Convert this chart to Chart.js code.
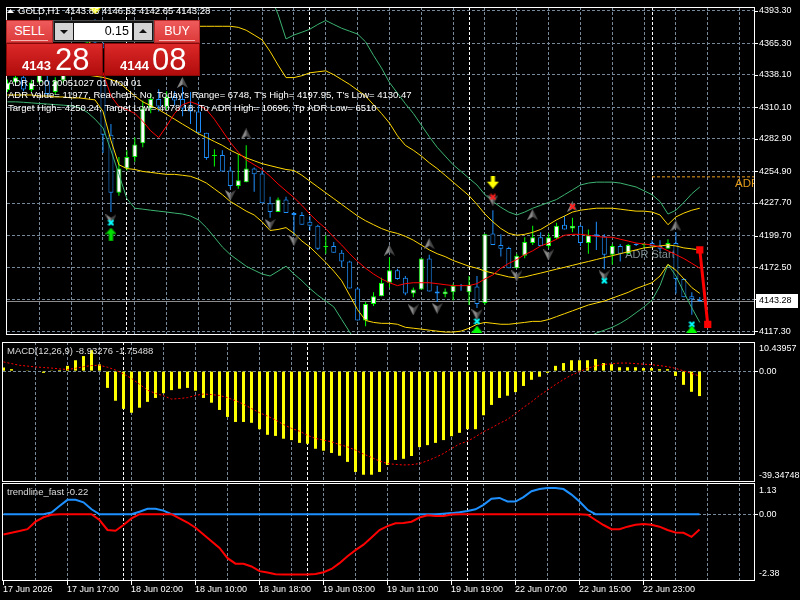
<!DOCTYPE html>
<html><head><meta charset="utf-8">
<script src="https://cdn.jsdelivr.net/npm/chart.js@4.4.1/dist/chart.umd.min.js"></script>
<style>
html,body{margin:0;padding:0;background:#000;}
body{width:800px;height:600px;position:relative;overflow:hidden;font-family:"Liberation Sans",Arial,sans-serif;}
canvas{position:absolute;left:0;}
#tp div{position:absolute;box-sizing:border-box;}
.top{top:20px;height:23px;background:linear-gradient(#ef5b5b,#dc3a3a);border:1px solid #b32828;color:#fff;font-size:12.5px;text-align:center;line-height:20px;}
.ul{left:4px;right:4px;bottom:1px;height:1px;background:#f5b0b0;}
#lot{left:53px;top:20px;width:101px;height:22px;background:#161616;border:1px solid #4a4a4a;}
.ab{top:2px;width:18px;height:17px;background:#d4d4d4;}
.tri{left:5px;width:0;height:0;border-left:4px solid transparent;border-right:4px solid transparent;}
.fld{left:20px;top:2px;width:58px;height:17px;background:#fff;color:#000;font-size:12.5px;text-align:right;padding-right:3px;line-height:17px;}
.big{top:43px;height:33px;background:linear-gradient(#dc2828,#b10c0c);border:1px solid #8a0808;color:#fff;}
.sm{font-weight:bold;font-size:13px;line-height:13px;top:15px;}
.lg{font-size:31px;line-height:31px;top:0px;}
</style></head>
<body>
<canvas id="cMain" width="800" height="341" style="top:0"></canvas>
<canvas id="cMacd" width="800" height="141" style="top:341px"></canvas>
<canvas id="cTrend" width="800" height="118" style="top:482px"></canvas>
<div id="tp">
  <div class="top" style="left:6px;width:47px;">SELL<div class="ul"></div></div>
  <div id="lot">
    <div class="ab" style="left:1px;"><div class="tri" style="top:7px;border-top:4px solid #111;"></div></div>
    <div class="fld">0.15</div>
    <div class="ab" style="left:80px;"><div class="tri" style="top:6px;border-bottom:4px solid #111;"></div></div>
  </div>
  <div class="top" style="left:154px;width:46px;">BUY<div class="ul"></div></div>
  <div class="big" style="left:6px;width:97px;"><div class="sm" style="left:15px;">4143</div><div class="lg" style="left:48px;">28</div></div>
  <div class="big" style="left:104px;width:96px;"><div class="sm" style="left:15px;">4144</div><div class="lg" style="left:47px;">08</div></div>
</div>
<script>
// ================= DATA =================
const timeLabels = ["17 Jun 2026","17 Jun 17:00","18 Jun 02:00","18 Jun 10:00","18 Jun 18:00","19 Jun 03:00","19 Jun 11:00","19 Jun 19:00","22 Jun 07:00","22 Jun 15:00","22 Jun 23:00"];
const timeLabelBars = [0,8,16,24,32,40,48,56,64,72,80];
const gridBars = [4,8,12,16,20,24,28,32,36,40,44,48,52,56,60,64,68,72,76,80,84,88,92];
const daySeparators = [15,38,58,81];
const priceTicks = [4117.30,4144.90,4172.50,4199.70,4227.70,4254.90,4282.90,4310.10,4338.10,4365.30,4393.30];
const priceTickLabels = ["4117.30","","4172.50","4199.70","4227.70","4254.90","4282.90","4310.10","4338.10","4365.30","4393.30"];
const lastPrice = 4143.28;
const headerText = "GOLD,H1  4143.86 4146.62 4142.65 4143.28";
const adrLines = ["ADR 1.00 20051027 01 Mod 01",
  "ADR Value= 11977, Reached= No, Today's Range= 6748, T's High= 4197.95, T's Low= 4130.47",
  "Target High= 4250.24, Target Low= 4078.18, To ADR High= 10696, Tp ADR Low= 6510"];
const adrHigh = 4250.24, adrStartBar = 81;
const adrStartTextBar = 78, adrStartTextPrice = 4183.2;

const open = [4324.9,4331.6,4336.0,4325.0,4331.6,4333.3,4323.3,4333.3,4340.0,4348.0,
 4357.0,4366.0,4362.0,4286.6,4236.5,4257.4,4267.4,4279.1,4309.1,4317.4,
 4310.8,4319.1,4317.4,4309.1,4306.6,4288.2,4268.2,4269.1,4255.7,4242.4,
 4245.7,4257.4,4253.2,4227.4,4219.9,4230.7,4219.0,4217.4,4211.5,4208.2,
 4189.8,4190.7,4184.8,4177.3,4154.0,4126.5,4140.7,4147.3,4159.0,4169.8,
 4163.2,4149.8,4153.2,4179.8,4151.5,4149.0,4150.7,4156.5,4150.7,4155.7,
 4141.5,4201.5,4191.5,4189.0,4171.5,4182.3,4193.2,4198.2,4190.7,4197.4,
 4209.0,4205.7,4208.2,4193.2,4200.7,4199.0,4183.2,4190.7,4184.0,4192.4,
 4191.5,4193.2,4190.7,4188.2,4193.2,4162.3,4147.3,4143.86];
const high = [4334.1,4338.0,4339.0,4334.0,4340.0,4338.0,4336.0,4342.0,4351.0,4360.0,
 4370.0,4386.0,4366.0,4295.7,4267.4,4273.2,4284.1,4316.0,4322.0,4325.8,
 4324.0,4324.0,4327.4,4323.3,4314.9,4288.2,4274.1,4273.2,4259.1,4269.9,
 4277.4,4258.2,4255.7,4233.2,4232.4,4233.2,4220.0,4219.9,4216.5,4209.0,
 4199.9,4194.0,4187.3,4178.0,4155.0,4142.3,4150.7,4163.2,4180.7,4171.0,
 4164.8,4154.8,4180.0,4183.2,4156.5,4154.0,4158.2,4158.0,4164.8,4164.8,
 4201.0,4221.5,4200.7,4190.0,4184.0,4198.2,4208.2,4202.4,4201.5,4210.7,
 4216.5,4214.9,4209.0,4204.9,4211.5,4200.7,4192.4,4192.4,4192.4,4193.0,
 4193.2,4195.7,4195.7,4196.5,4202.4,4163.0,4150.7,4146.62];
const low = [4323.3,4329.5,4324.0,4323.5,4330.0,4320.0,4321.0,4331.0,4337.0,4345.0,
 4353.0,4360.0,4270.7,4219.9,4234.0,4255.7,4263.2,4275.7,4305.0,4306.6,
 4308.0,4312.0,4302.4,4295.7,4288.2,4264.9,4259.1,4254.9,4239.9,4239.9,
 4245.7,4237.4,4227.4,4214.9,4219.9,4219.0,4199.9,4209.0,4204.0,4187.3,
 4184.0,4184.8,4172.3,4154.0,4126.5,4121.5,4139.0,4147.3,4154.8,4161.5,
 4148.2,4146.5,4153.2,4151.5,4142.3,4146.5,4144.0,4152.0,4139.8,4137.3,
 4140.0,4191.5,4181.5,4171.5,4171.5,4180.0,4191.5,4190.7,4189.0,4196.5,
 4204.9,4202.4,4190.7,4184.0,4187.3,4170.7,4174.8,4177.3,4184.0,4190.7,
 4189.0,4190.7,4186.5,4188.2,4149.8,4146.5,4131.5,4142.65];
const close = [4331.6,4336.0,4325.5,4331.6,4338.0,4321.6,4333.3,4340.0,4348.0,4357.0,
 4366.0,4362.0,4286.6,4236.5,4257.4,4267.4,4278.2,4309.1,4317.4,4310.8,
 4319.1,4316.0,4309.1,4306.6,4288.2,4266.6,4269.1,4254.9,4242.4,4247.4,
 4257.4,4252.4,4227.4,4219.9,4230.7,4219.0,4217.4,4209.0,4208.2,4188.2,
 4190.6,4184.8,4177.3,4154.0,4126.5,4140.7,4147.3,4159.0,4169.8,4162.3,
 4149.8,4153.2,4179.8,4151.5,4149.8,4151.5,4156.5,4156.0,4157.3,4140.7,
 4200.7,4191.5,4188.2,4171.5,4182.3,4194.0,4198.2,4190.7,4198.2,4208.2,
 4204.9,4208.2,4193.2,4199.9,4199.0,4183.2,4190.7,4184.0,4191.5,4191.5,
 4192.0,4190.7,4188.2,4193.2,4162.3,4146.5,4144.8,4143.28];

const bandOuterUpper = [4430,4430,4430,4430,4430,4430,4430,4430,4430,4430,
 4430,4430,4430,4430,4430,4430,4430,4430,4430,4430,
 4430,4430,4430,4430,4430,4430,4430,4430,4430,4430,
 4420,4415,4410,4406.6,4390.4,4369.1,4372.5,4374.9,4377.5,4381.6,
 4385.0,4381.6,4378.3,4375.8,4373.3,4366.6,4354.9,4344.1,4331.6,4322.4,
 4313.3,4304.9,4294.9,4284.9,4275.7,4268.2,4260.7,4254.9,4249.0,4243.2,
 4234.9,4229.0,4224.0,4219.9,4217.4,4219.9,4223.2,4225.7,4228.2,4230.7,
 4234.9,4239.0,4243.2,4244.9,4245.7,4245.7,4245.7,4244.9,4243.2,4241.5,
 4238.2,4234.9,4229.0,4218.2,4221.5,4228.2,4235.7,4241.5];
const bandInnerUpper = [4350,4350,4350,4351,4351,4351,4352,4352,4355,4359,
 4364,4370,4379.5,4379.5,4379.5,4379.5,4379.5,4379.5,4379.5,4379.5,
 4379.5,4379.5,4379.5,4379.5,4380.0,4380.0,4380.0,4380.0,4380.0,4379.1,
 4376.6,4372.5,4368.3,4358.3,4346.6,4335.8,4335.8,4337.4,4339.9,4340.8,
 4341.6,4338.3,4334.1,4329.9,4324.9,4319.9,4312.4,4304.9,4296.6,4285.7,
 4277.4,4273.2,4268.2,4262.4,4257.4,4251.6,4245.7,4239.9,4234.0,4226.5,
 4218.2,4211.5,4205.7,4201.5,4199.9,4200.7,4202.4,4204.9,4209.0,4213.2,
 4216.5,4219.9,4221.5,4222.4,4223.2,4223.2,4223.2,4222.4,4221.5,4220.7,
 4220.7,4219.9,4217.4,4209.0,4215.7,4219.0,4221.5,4223.2];
const slowMA = [4340,4340,4341,4341,4342,4342,4342,4341,4340,4339,
 4338,4337,4336,4334.1,4331.6,4325.8,4319.9,4314.9,4311.6,4308.2,
 4304.1,4299.9,4295.7,4291.6,4287.4,4284.1,4280.7,4277.4,4273.2,4269.9,
 4266.6,4264.1,4261.6,4259.9,4258.2,4256.6,4255.7,4251.6,4246.5,4241.5,
 4236.5,4231.5,4226.5,4221.5,4216.5,4212.4,4209.0,4205.7,4203.2,4201.5,
 4199.0,4195.7,4191.5,4187.3,4184.0,4181.5,4178.2,4175.7,4173.2,4171.5,
 4169.0,4167.3,4165.7,4164.0,4163.2,4164.0,4165.7,4167.3,4169.0,4170.7,
 4172.3,4174.0,4175.7,4177.3,4179.0,4180.7,4182.3,4184.0,4185.7,4187.3,
 4189.0,4189.8,4190.7,4191.5,4190.7,4189.0,4188.2,4187.3];
const midMA = [4338,4338,4339,4339,4340,4340,4340,4341,4343,4346,
 4350,4354,4340,4320,4310.8,4308.2,4304.9,4298.2,4289.9,4284.1,
 4294.1,4304.9,4312.4,4314.9,4312.4,4308.2,4299.9,4289.9,4279.9,4271.6,
 4264.9,4260.7,4256.6,4250.7,4244.1,4238.2,4232.4,4225.7,4218.2,4211.5,
 4205.7,4198.2,4191.5,4184.0,4177.3,4171.5,4166.5,4162.3,4159.0,4156.5,
 4158.2,4159.0,4159.0,4159.0,4158.2,4157.3,4156.5,4156.5,4156.5,4158.2,
 4162.3,4165.7,4171.5,4175.7,4179.0,4183.2,4186.5,4190.7,4193.2,4196.5,
 4199.9,4200.7,4200.7,4199.9,4199.0,4198.2,4198.2,4196.5,4194.9,4193.2,
 4192.4,4191.5,4189.8,4186.5,4183.2,4179.8,4175.7,4171.5];
const bandInnerLower = [4320.8,4320.8,4320.8,4320.8,4319.9,4319.9,4319.1,4319.1,4318.3,4318.3,
 4317.4,4316.6,4306.6,4281.6,4260.7,4257.4,4256.6,4254.9,4254.1,4253.2,
 4252.4,4252.4,4251.6,4250.7,4248.2,4244.9,4239.9,4234.9,4229.0,4224.9,
 4220.7,4217.4,4211.5,4204.0,4204.9,4206.5,4201.5,4194.9,4189.8,4183.2,
 4176.5,4169.0,4160.7,4148.2,4135.7,4126.5,4124.8,4124.0,4124.0,4123.2,
 4120.6,4119.8,4119.0,4118.1,4117.3,4116.5,4116.5,4117.3,4119.8,4123.2,
 4124.8,4124.0,4123.2,4123.2,4124.0,4124.8,4125.7,4125.7,4127.3,4129.8,
 4132.3,4134.8,4137.3,4139.8,4141.5,4143.2,4145.7,4148.2,4150.7,4154.0,
 4156.5,4159.0,4164.8,4174.8,4169.8,4162.3,4154.8,4149.8];
const bandOuterLower = [4314.9,4314.9,4314.5,4314.0,4313.5,4313.0,4312.5,4312.0,4311.5,4310.0,
 4306.0,4300.0,4292.4,4273.2,4252.4,4231.5,4223.2,4222.4,4221.5,4220.7,
 4219.9,4219.0,4218.2,4216.5,4213.2,4206.5,4198.2,4189.8,4183.2,4178.2,
 4173.2,4169.8,4166.5,4164.8,4169.0,4173.2,4166.5,4160.7,4154.0,4148.2,
 4143.2,4138.2,4127.3,4116.5,4106.5,4098.1,4094.0,4091.0,4090.0,4088.0,
 4086.0,4085.0,4083.0,4081.0,4080.0,4080.0,4080.0,4080.0,4082.0,4085.0,
 4087.0,4090.0,4092.0,4093.0,4095.0,4096.0,4098.0,4100.0,4101.0,4103.0,
 4105.0,4106.0,4108.0,4112.0,4115.6,4118.1,4120.6,4124.0,4128.2,4133.2,
 4138.2,4144.0,4156.5,4174.8,4164.8,4150.7,4137.3,4124.8];

const projBars = [87, 88];
const projPrices = [4187.3, 4123.2];

const grayUpMarks = [[22,4331.6],[30,4287.2],[48,4187.1],[53,4192.6],[66,4217.6],[71,4224.6],[84,4208.0]];
const grayDownMarks = [[13,4213.2],[28,4234.3],[33,4209.3],[36,4195.4],[51,4135.6],[54,4137.0],[59,4131.5],[61,4230.1],[64,4164.8],[68,4182.9],[75,4164.8]];
const cyanMarks = [[13,4210.7],[59,4125.7],[75,4160.7],[86,4123.2]];
const redMarks = [[61,4232.9],[71,4224.6]];
const greenTriMarks = [[59,4119.0],[86,4119.0]];
const greenArrowMarks = [[13,4200.7]];
const yellowArrowMarks = [[61,4245.7],[11,4395.8]];

const macdMain = [1.3,0.7,0.2,0.1,0.0,-0.6,0.1,0.4,1.9,3.9,
 5.4,7.5,2.4,-6.0,-10.6,-13.5,-14.9,-13.1,-11.0,-9.6,
 -7.9,-6.8,-6.3,-6.0,-7.0,-9.6,-11.3,-13.9,-16.4,-18.2,
 -18.2,-18.5,-20.8,-22.8,-23.2,-24.2,-24.7,-25.7,-26.0,-27.8,
 -28.5,-29.3,-30.3,-32.5,-36.1,-37.1,-37.1,-36.1,-33.6,-31.8,
 -31.4,-30.4,-27.2,-26.5,-25.7,-24.7,-23.3,-22.1,-20.8,-20.8,
 -15.8,-12.1,-9.6,-8.8,-7.5,-5.3,-3.1,-2.0,-0.6,1.9,
 2.9,3.9,3.9,3.9,4.3,2.9,2.5,1.4,1.4,1.4,
 1.1,1.1,0.7,0.7,-1.7,-4.9,-7.4,-8.93];
const macdSignal = [3.3,2.7,2.1,1.8,1.5,1.3,1.1,0.8,0.6,1.0,
 1.6,2.0,2.1,1.4,0.4,-1.0,-2.6,-4.7,-6.8,-8.0,
 -8.8,-10.0,-9.8,-9.5,-8.7,-8.2,-8.4,-8.7,-9.5,-10.6,
 -11.8,-13.4,-14.9,-16.1,-17.5,-19.1,-20.5,-21.5,-23.0,-24.1,
 -24.7,-25.3,-26.3,-27.1,-28.3,-29.7,-30.9,-32.2,-33.1,-33.4,
 -33.6,-33.5,-33.1,-32.1,-30.9,-29.5,-27.7,-26.1,-25.1,-23.5,
 -21.7,-20.3,-18.7,-17.3,-15.2,-13.0,-11.0,-8.7,-6.8,-4.8,
 -3.0,-1.4,-0.2,1.0,1.9,2.4,2.6,2.9,2.9,2.7,
 2.5,2.3,2.0,1.6,1.0,0.1,-0.8,-1.75];
const macdLabel = "MACD(12,26,9) -8.93276 -1.75488";
const macdMax = 10.43957, macdMin = -39.34748;

const trendBlue = [0,0,0,0,0,0,0.06,0.30,0.52,0.52,
 0.43,0.18,0,0,0,0,0,0.09,0.2,0.2,
 0.13,0,0,0,0,0,0,0,0,0,
 0,0,0,0,0,0,0,0,0,0,
 0,0,0,0,0,0,0,0,0,0,
 0,0,0,0,0,0.02,0.04,0.07,0.12,0.18,
 0.34,0.56,0.59,0.46,0.46,0.62,0.83,0.91,0.95,0.95,
 0.91,0.71,0.46,0.16,0,0,0,0,0,0,
 0,0,0,0,0,0,0,0];
const trendRed = [-0.73,-0.67,-0.61,-0.54,-0.27,-0.11,-0.02,0,0,0,
 0,0,-0.21,-0.57,-0.6,-0.39,-0.15,0,0,0,
 0,0,-0.15,-0.3,-0.49,-0.73,-0.98,-1.22,-1.59,-1.79,
 -1.79,-1.89,-2.06,-2.11,-2.17,-2.18,-2.18,-2.18,-2.18,-2.16,
 -2.1,-1.98,-1.77,-1.52,-1.3,-1.1,-0.84,-0.57,-0.43,-0.33,
 -0.32,-0.27,-0.12,-0.04,-0.06,-0.06,-0.01,0,0,0,
 0,0,0,0,0,0,0,0,0,0,
 0,0,0,-0.02,-0.21,-0.39,-0.54,-0.54,-0.45,-0.38,
 -0.35,-0.38,-0.45,-0.57,-0.66,-0.67,-0.82,-0.55];
const trendLabel = "trendline_fast -0.22";
const trendMax = 1.13, trendMin = -2.38;

// ================= STYLE / HELPERS =================
const FONT = '"Liberation Sans", Arial, sans-serif';
const GRID = '#778899';
const BULL = '#00ff00', BEAR = '#1e90ff';
const XMIN = -0.0625, XMAX = XMIN + 751/8;

function icon(w, h, draw){ const c=document.createElement('canvas'); c.width=w; c.height=h; draw(c.getContext('2d')); return c; }
const icGrayUp = icon(11,11,g=>{g.beginPath();g.moveTo(5.5,0);g.lineTo(11,11);g.lineTo(5.5,7.5);g.lineTo(0,11);g.closePath();g.fillStyle='#4a4a4a';g.fill();
  g.beginPath();g.moveTo(5.5,0);g.lineTo(0,11);g.lineTo(5.5,7.5);g.closePath();g.fillStyle='#8a8a8a';g.fill();});
const icGrayDown = icon(11,11,g=>{g.beginPath();g.moveTo(5.5,11);g.lineTo(11,0);g.lineTo(5.5,3.5);g.lineTo(0,0);g.closePath();g.fillStyle='#4a4a4a';g.fill();
  g.beginPath();g.moveTo(5.5,11);g.lineTo(0,0);g.lineTo(5.5,3.5);g.closePath();g.fillStyle='#8a8a8a';g.fill();});
function xIcon(col){ return icon(7,7,g=>{g.strokeStyle=col;g.lineWidth=2;g.beginPath();g.moveTo(1,1);g.lineTo(6,6);g.moveTo(6,1);g.lineTo(1,6);g.stroke();}); }
const icCyan = xIcon('#00ffff'), icRed = xIcon('#ff2020');
const icGreenTri = icon(11,7,g=>{g.fillStyle='#00ff00';g.beginPath();g.moveTo(5.5,0);g.lineTo(11,7);g.lineTo(0,7);g.closePath();g.fill();});
const icGreenArrow = icon(11,13,g=>{g.fillStyle='#00e000';g.beginPath();g.moveTo(5.5,0);g.lineTo(11,6);g.lineTo(7.5,6);g.lineTo(7.5,13);g.lineTo(3.5,13);g.lineTo(3.5,6);g.lineTo(0,6);g.closePath();g.fill();
  g.strokeStyle='#008000';g.lineWidth=1;g.stroke();});
const icYellowArrow = icon(13,13,g=>{g.fillStyle='#ffff00';g.beginPath();g.moveTo(4.5,0);g.lineTo(8.5,0);g.lineTo(8.5,6);g.lineTo(12.5,6);g.lineTo(6.5,13);g.lineTo(0.5,6);g.lineTo(4.5,6);g.closePath();g.fill();});

function lineDS(arr, color, width, order, dash){
  return {type:'line', data: arr.map((v,i)=>({x:i,y:v})), borderColor:color, borderWidth:width, pointRadius:0, tension:0, fill:false, order, borderDash:dash||[]};
}
function markDS(list, ic, order){
  return {type:'line', data: list.map(p=>({x:p[0],y:p[1]})), showLine:false, pointStyle:ic, pointRadius:6, order};
}
function xScale(h){
  return {type:'linear', min:XMIN, max:XMAX, bounds:'data', offset:false,
    afterBuildTicks(s){ s.ticks = gridBars.map(v=>({value:v})); },
    ticks:{display:false}, grid:{color:GRID, drawTicks:false, lineWidth:1, offset:false}, border:{display:false, dash:[3,2]},
    afterFit(s){ s.height=h; s.paddingLeft=0; s.paddingRight=0; }};
}
function yScale(min, max, ticks){
  return {type:'linear', position:'right', min, max, bounds:'data',
    afterBuildTicks(s){ s.ticks = ticks.map(v=>({value:v})); },
    ticks:{display:false}, grid:{color:GRID, drawTicks:false, lineWidth:1}, border:{display:false, dash:[3,2]},
    afterFit(s){ s.width=46; s.paddingTop=0; s.paddingBottom=0; }};
}
function frame(ctx, a){
  ctx.save(); ctx.setLineDash([]); ctx.strokeStyle='#ffffff'; ctx.lineWidth=1;
  ctx.strokeRect(a.left-0.5, a.top+0.5, a.right-a.left+1, a.bottom-a.top);
  ctx.restore();
}
function separators(chart){
  const {ctx, chartArea:a, scales:{x}} = chart;
  ctx.save(); ctx.strokeStyle='#ffffff'; ctx.lineWidth=1; ctx.setLineDash([3,2]);
  daySeparators.forEach(b=>{ const px=Math.floor(x.getPixelForValue(b))+0.5; ctx.beginPath(); ctx.moveTo(px,a.top); ctx.lineTo(px,a.bottom); ctx.stroke(); });
  ctx.restore();
}
function rLabel(ctx, a, text, y, base){
  ctx.fillStyle='#ffffff'; ctx.font='9px '+FONT; ctx.textAlign='left'; ctx.textBaseline=base||'middle';
  ctx.fillText(text, a.right+5, y);
}
function tick(ctx, a, y){ ctx.fillStyle='#ffffff'; ctx.fillRect(a.right+1, Math.round(y), 3, 1); }

const common = {responsive:false, animation:false, events:[], plugins:{legend:{display:false}, tooltip:{enabled:false}}};

// ================= MAIN CHART =================
const isBull = open.map((o,i)=>close[i]>=o);
const mainPlugin = {
  id:'mainDeco',
  beforeDatasetsDraw(chart){
    const {ctx, chartArea:a, scales:{x,y}} = chart;
    separators(chart);
    ctx.save();
    const py=Math.round(y.getPixelForValue(lastPrice))+0.5;
    ctx.strokeStyle='#8c8c8c'; ctx.lineWidth=1; ctx.beginPath(); ctx.moveTo(a.left,py); ctx.lineTo(a.right,py); ctx.stroke();
    ctx.fillStyle='#7f8f93'; ctx.font='11px '+FONT; ctx.textBaseline='middle'; ctx.textAlign='left';
    ctx.fillText('ADR Start', x.getPixelForValue(adrStartTextBar)-3, y.getPixelForValue(adrStartTextPrice));
    ctx.restore();
  },
  afterDraw(chart){
    const {ctx, chartArea:a, scales:{x,y}} = chart;
    ctx.save();
    ctx.save(); ctx.beginPath(); ctx.rect(a.left,a.top,a.right-a.left,a.bottom-a.top); ctx.clip();
    ctx.fillStyle='#e39a1b'; ctx.font='11.5px '+FONT; ctx.textBaseline='middle'; ctx.textAlign='left';
    ctx.fillText('ADR', a.right-19, y.getPixelForValue(adrHigh)+7);
    ctx.restore();
    frame(ctx, a);
    priceTicks.forEach((v,i)=>{ const py=y.getPixelForValue(v); tick(ctx,a,py); if(priceTickLabels[i]) rLabel(ctx,a,priceTickLabels[i],py); });
    const py=Math.round(y.getPixelForValue(lastPrice));
    ctx.fillStyle='#ffffff'; ctx.fillRect(a.right+2, py-7, 42, 14);
    ctx.fillStyle='#000000'; ctx.font='9px '+FONT; ctx.textBaseline='middle'; ctx.fillText(lastPrice.toFixed(2), a.right+5, py);
    ctx.fillStyle='#ffffff';
    ctx.beginPath(); ctx.moveTo(7,13); ctx.lineTo(10.5,9); ctx.lineTo(14,13); ctx.closePath(); ctx.fill();
    ctx.font='9.5px '+FONT; ctx.textBaseline='middle';
    ctx.fillText(headerText, 18, 11);
    adrLines.forEach((t,i)=>ctx.fillText(t, 8, 83+i*12.5));
    ctx.restore();
  }
};
const mainCfg = {
  type:'bar',
  data:{datasets:[
    markDS(yellowArrowMarks, icYellowArrow, 0),
    markDS(greenArrowMarks, icGreenArrow, 0),
    markDS(greenTriMarks, icGreenTri, 0),
    markDS(cyanMarks, icCyan, 0),
    markDS(redMarks, icRed, 0),
    markDS(grayUpMarks, icGrayUp, 1),
    markDS(grayDownMarks, icGrayDown, 1),
    {type:'line', data: projBars.map((b,i)=>({x:b,y:projPrices[i]})), borderColor:'#ff0000', borderWidth:3, pointStyle:'rect', pointRadius:3, pointBackgroundColor:'#ff0000', pointBorderColor:'#ff0000', order:2},
    {type:'line', data:[{x:adrStartBar,y:adrHigh},{x:XMAX+1,y:adrHigh}], borderColor:'#f0a020', borderWidth:1, borderDash:[3,2], pointRadius:0, order:3},
    lineDS(midMA, '#ff0000', 1, 4),
    lineDS(slowMA, '#ffd700', 1, 5),
    lineDS(bandInnerUpper, '#ffd700', 1, 5),
    lineDS(bandInnerLower, '#ffd700', 1, 5),
    lineDS(bandOuterUpper, '#3cb371', 1, 6),
    lineDS(bandOuterLower, '#3cb371', 1, 6),
    {type:'bar', data: open.map((o,i)=>({x:i, y:[Math.min(o,close[i]), Math.max(o,close[i])]})),
      backgroundColor: open.map((o,i)=> Math.abs(o-close[i])<1.3 ? (isBull[i]?BULL:BEAR) : (isBull[i]?'#ffffff':'#000000')),
      borderColor: isBull.map(b=>b?BULL:BEAR), borderWidth:1, borderSkipped:false, barThickness:5, grouped:false, minBarLength:1, inflateAmount:0, order:7},
    {type:'bar', data: open.map((o,i)=>({x:i, y:[low[i], high[i]]})),
      backgroundColor: isBull.map(b=>b?BULL:BEAR), borderWidth:0, barThickness:1, grouped:false, inflateAmount:0, order:8}
  ]},
  options:Object.assign({}, common, {
    layout:{padding:{left:3, top:2, right:0, bottom:1}},
    scales:{x:xScale(0), y:yScale(4114.81, 4396.63, priceTicks)}
  }),
  plugins:[mainPlugin]
};
new Chart(document.getElementById('cMain'), mainCfg);

// ================= MACD =================
const macdPlugin = {
  id:'macdDeco',
  beforeDatasetsDraw(chart){ separators(chart); },
  afterDraw(chart){
    const {ctx, chartArea:a, scales:{y}} = chart;
    ctx.save(); frame(ctx,a);
    tick(ctx,a,y.getPixelForValue(0));
    rLabel(ctx,a,macdMax.toFixed(5), a.top+2, 'top');
    rLabel(ctx,a,'0.00', y.getPixelForValue(0));
    rLabel(ctx,a,macdMin.toFixed(5), a.bottom-1, 'bottom');
    ctx.fillStyle='#dcdcdc'; ctx.font='9.5px '+FONT; ctx.textBaseline='middle'; ctx.textAlign='left';
    ctx.fillText(macdLabel, 7, a.top+9);
    ctx.restore();
  }
};
new Chart(document.getElementById('cMacd'), {
  type:'bar',
  data:{datasets:[
    lineDS(macdSignal, '#ff0000', 1, 0, [2,2]),
    {type:'bar', data: macdMain.map((v,i)=>({x:i,y:v})), backgroundColor:'#ffff00', borderWidth:0, barThickness:3, grouped:false, inflateAmount:0, order:1}
  ]},
  options:Object.assign({}, common, {
    layout:{padding:{left:3, top:1, right:0, bottom:1}},
    scales:{x:xScale(0), y:yScale(macdMin, macdMax, [0])}
  }),
  plugins:[macdPlugin]
});

// ================= TREND =================
const trendPlugin = {
  id:'trendDeco',
  beforeDatasetsDraw(chart){ separators(chart); },
  afterDraw(chart){
    const {ctx, chartArea:a, scales:{x,y}} = chart;
    ctx.save(); frame(ctx,a);
    tick(ctx,a,y.getPixelForValue(0));
    rLabel(ctx,a,trendMax.toFixed(2), a.top+3, 'top');
    rLabel(ctx,a,'0.00', y.getPixelForValue(0));
    rLabel(ctx,a,trendMin.toFixed(2), a.bottom-2, 'bottom');
    ctx.fillStyle='#dcdcdc'; ctx.font='9.5px '+FONT; ctx.textBaseline='middle'; ctx.textAlign='left';
    ctx.fillText(trendLabel, 7, a.top+9);
    ctx.fillStyle='#ffffff'; ctx.font='9px '+FONT;
    timeLabelBars.forEach((b,i)=>{
      const px=Math.floor(x.getPixelForValue(b));
      ctx.fillRect(px, a.bottom+1, 1, 4);
      ctx.fillText(timeLabels[i], px, a.bottom+10);
    });
    ctx.restore();
  }
};
new Chart(document.getElementById('cTrend'), {
  type:'line',
  data:{datasets:[
    lineDS(trendRed, '#ff0000', 2, 0),
    lineDS(trendBlue, '#1e90ff', 2, 1)
  ]},
  options:Object.assign({}, common, {
    layout:{padding:{left:3, top:1, right:0, bottom:0}},
    scales:{x:xScale(20), y:yScale(trendMin, trendMax, [0])}
  }),
  plugins:[trendPlugin]
});
</script>
</body></html>
